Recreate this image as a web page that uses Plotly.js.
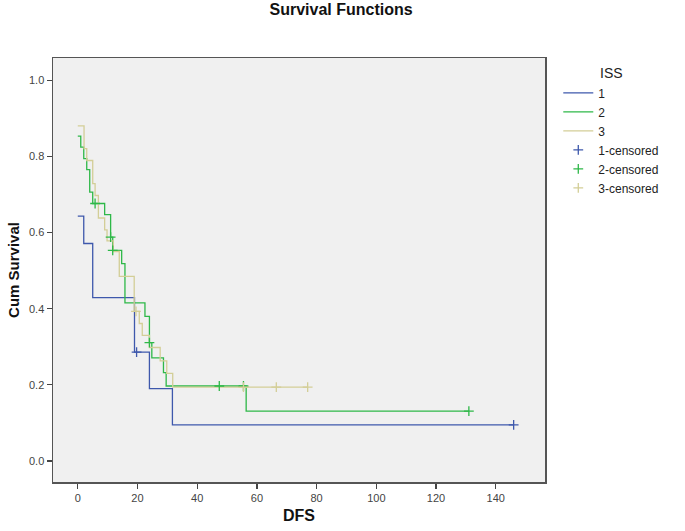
<!DOCTYPE html>
<html>
<head>
<meta charset="utf-8">
<script src="https://cdn.plot.ly/plotly-3.0.1.min.js"></script>
<style>html,body{margin:0;padding:0;background:#fff;}#chart{width:685px;height:531px;}</style>
</head>
<body>
<div id="chart"></div>
<script>
// Group 1 (ISS 1) step curve
var g1Time = [0, 2, 5, 19, 24, 31.7, 146];
var g1Surv = [0.643, 0.571, 0.429, 0.286, 0.190, 0.095, 0.095];
var g1CensTime = [19.7, 146];
var g1CensSurv = [0.286, 0.095];

// Group 2 (ISS 2)
var g2Time = [0, 1, 2, 3, 4, 5, 9, 11, 11.7, 14.7, 15.8, 22.5, 24, 24.8, 28.7, 29.6, 56.4, 131];
var g2Surv = [0.853, 0.824, 0.794, 0.765, 0.706, 0.676, 0.647, 0.588, 0.553, 0.518, 0.415, 0.380, 0.311, 0.271, 0.232, 0.197, 0.131, 0.131];
var g2CensTime = [5.8, 11, 11.7, 24, 47.4, 55.5, 131];
var g2CensSurv = [0.676, 0.588, 0.553, 0.311, 0.197, 0.197, 0.131];

// Group 3 (ISS 3)
var g3Time = [0, 2.1, 3, 5, 5.8, 6.9, 9, 9.8, 11.9, 13.9, 18.9, 20.6, 21.6, 24, 27.6, 29.8, 31.8, 77];
var g3Surv = [0.880, 0.820, 0.789, 0.728, 0.697, 0.638, 0.607, 0.578, 0.550, 0.485, 0.393, 0.361, 0.330, 0.298, 0.263, 0.230, 0.194, 0.194];
var g3CensTime = [19.5, 55.5, 66.5, 77];
var g3CensSurv = [0.393, 0.194, 0.194, 0.194];

var xTicks = [0, 20, 40, 60, 80, 100, 120, 140];
var yTicks = [0.0, 0.2, 0.4, 0.6, 0.8, 1.0];
var groupNames = ['1', '2', '3'];
var censNames = ['1-censored', '2-censored', '3-censored'];
var colors = ['#3E58AC', '#2EB848', '#D3CE97'];

function stepTrace(x, y, i) {
  return {x: x, y: y, type: 'scatter', mode: 'lines', name: groupNames[i],
          line: {shape: 'hv', color: colors[i], width: 1.3}, hoverinfo: 'x+y'};
}
function censTrace(x, y, i) {
  return {x: x, y: y, type: 'scatter', mode: 'markers', name: censNames[i],
          marker: {symbol: 'cross-thin-open', size: 7, line: {color: colors[i], width: 1.3}, color: colors[i]}};
}

var data = [
  stepTrace(g1Time, g1Surv, 0),
  stepTrace(g2Time, g2Surv, 1),
  stepTrace(g3Time, g3Surv, 2),
  censTrace(g1CensTime, g1CensSurv, 0),
  censTrace(g2CensTime, g2CensSurv, 1),
  censTrace(g3CensTime, g3CensSurv, 2)
];

var axisFont = {family: 'Liberation Sans, Arial, sans-serif', size: 11, color: '#444'};
var layout = {
  width: 685, height: 531,
  margin: {l: 53, r: 140, t: 58, b: 49},
  paper_bgcolor: '#ffffff',
  plot_bgcolor: '#F0F0F0',
  title: {text: 'Survival Functions', x: 0.498, xref: 'container', xanchor: 'center', y: 0.993, yanchor: 'top',
          font: {family: 'Liberation Sans, Arial, sans-serif', size: 16, color: '#111', weight: 'bold'}},
  showlegend: true,
  legend: {x: 1.027, xanchor: 'left', y: 0.995, yanchor: 'top', bgcolor: 'rgba(0,0,0,0)',
           font: {family: 'Liberation Sans, Arial, sans-serif', size: 12, color: '#222'},
           title: {text: 'ISS', side: 'top center', font: {family: 'Liberation Sans, Arial, sans-serif', size: 14, color: '#222'}},
           tracegroupgap: 0, itemwidth: 30},
  xaxis: {range: [-8.3, 156.5], tickvals: xTicks, ticktext: xTicks.map(String),
          ticks: 'outside', ticklen: 5, tickwidth: 1.2, tickcolor: '#444',
          showline: true, linecolor: '#555', linewidth: 1.5, mirror: true,
          showgrid: false, zeroline: false, tickfont: axisFont,
          title: {text: 'DFS', standoff: 7, font: {family: 'Liberation Sans, Arial, sans-serif', size: 16, color: '#111', weight: 'bold'}}},
  yaxis: {range: [-0.055, 1.058], tickvals: yTicks, ticktext: yTicks.map(function(v){return v.toFixed(1);}),
          ticks: 'outside', ticklen: 5, tickwidth: 1.2, tickcolor: '#444',
          showline: true, linecolor: '#555', linewidth: 1.5, mirror: true,
          showgrid: false, zeroline: false, tickfont: axisFont,
          title: {text: 'Cum Survival', standoff: 6, font: {family: 'Liberation Sans, Arial, sans-serif', size: 15, color: '#111', weight: 'bold'}}}
};

Plotly.newPlot('chart', data, layout, {displayModeBar: false, staticPlot: true});
</script>
</body>
</html>
